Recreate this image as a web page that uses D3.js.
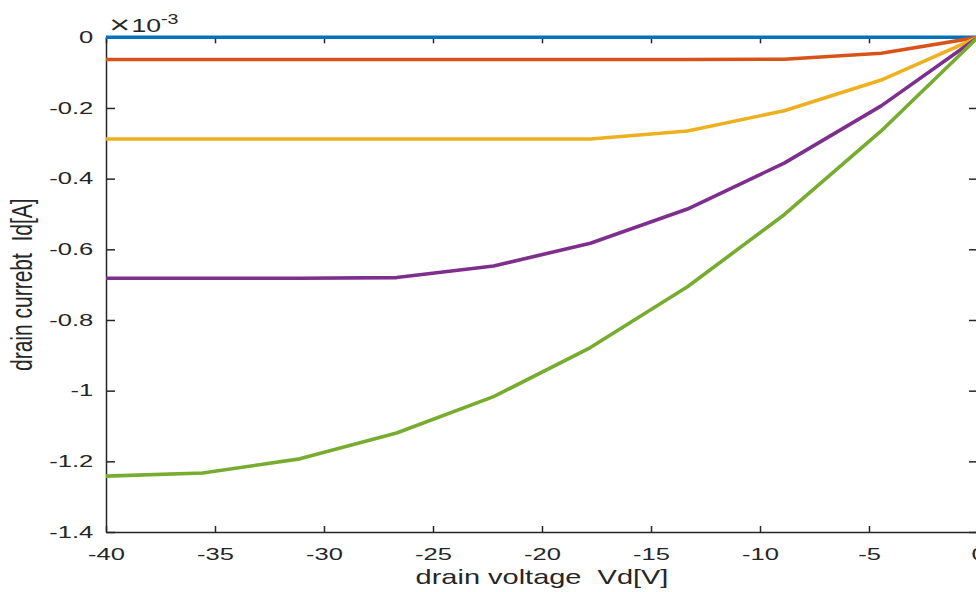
<!DOCTYPE html>
<html>
<head>
<meta charset="utf-8">
<script src="https://cdn.jsdelivr.net/npm/d3@7"></script>
<style>
    body { margin: 0; background: #fff; }
    svg { display: block; }
    text { font-family: "Liberation Sans", Arial, sans-serif; fill: #262626; white-space: pre; }
</style>
</head>
<body>
<svg id="chart"></svg>
<script>
// drain voltage points (V)
const vd = [-40, -35.56, -31.11, -26.67, -22.22, -17.78, -13.33, -8.89, -4.44, 0];

// drain current, units of 1e-3 A, one series per gate voltage
const idBlue   = [0, 0, 0, 0, 0, 0, 0, 0, 0, 0];
const idRed    = [-0.063, -0.063, -0.063, -0.063, -0.063, -0.063, -0.063, -0.062, -0.045, 0];
const idYellow = [-0.288, -0.288, -0.288, -0.288, -0.288, -0.288, -0.265, -0.208, -0.121, 0];
const idPurple = [-0.682, -0.682, -0.682, -0.680, -0.647, -0.583, -0.486, -0.356, -0.194, 0];
const idGreen  = [-1.242, -1.233, -1.193, -1.120, -1.017, -0.878, -0.706, -0.502, -0.265, 0];

const series = [idBlue, idRed, idYellow, idPurple, idGreen];
const colors = ["#0072BD", "#D95319", "#EDB120", "#7E2F8E", "#77AC30"];

const xTicks = [-40, -35, -30, -25, -20, -15, -10, -5, 0];
const yTicks = [0, -0.2, -0.4, -0.6, -0.8, -1, -1.2, -1.4];

const width = 976, height = 592;
const margin = {top: 37.3, right: -2, bottom: 60, left: 106};
const tickStretch = 1.55;   // the picture is stretched sideways
const labelStretch = 1.38;

const svg = d3.select("#chart").attr("width", width).attr("height", height);

const x = d3.scaleLinear().domain([-40, 0]).range([margin.left, width - margin.right]);
const y = d3.scaleLinear().domain([-1.4, 0]).range([height - margin.bottom, margin.top]);

const fmt = d => d === 0 ? "0" : String(d);

// bottom axis
const gx = svg.append("g")
    .attr("transform", `translate(0,${y(-1.4)})`)
    .call(d3.axisBottom(x).tickValues(xTicks).tickFormat(fmt)
        .tickSizeInner(-6).tickSizeOuter(0).tickPadding(16));
gx.selectAll("text")
    .attr("transform", `scale(${tickStretch},1)`)
    .style("font-size", "16.5px");

// left axis
const gy = svg.append("g")
    .attr("transform", `translate(${x(-40)},0)`)
    .call(d3.axisLeft(y).tickValues(yTicks).tickFormat(fmt)
        .tickSizeInner(-9).tickSizeOuter(0).tickPadding(8.2));
gy.selectAll("text")
    .attr("transform", `scale(${tickStretch},1)`)
    .style("font-size", "16.5px");

// top and right box sides, ticks only
svg.append("g")
    .attr("transform", `translate(0,${y(0)})`)
    .call(d3.axisTop(x).tickValues(xTicks).tickFormat("")
        .tickSizeInner(-6).tickSizeOuter(0));
svg.append("g")
    .attr("transform", `translate(${x(0)},0)`)
    .call(d3.axisRight(y).tickValues(yTicks).tickFormat("")
        .tickSizeInner(-9).tickSizeOuter(0));

svg.selectAll(".domain, .tick line")
    .attr("stroke", "#262626")
    .attr("stroke-width", 1.5);
svg.selectAll(".tick text").attr("fill", "#262626");

// curves
const line = d3.line()
    .x((d, i) => x(vd[i]))
    .y(d => y(d));

svg.append("g")
    .selectAll("path")
    .data(series)
    .enter().append("path")
    .attr("fill", "none")
    .attr("stroke", (d, i) => colors[i])
    .attr("stroke-width", 3.6)
    .attr("stroke-linejoin", "round")
    .attr("d", line);

// exponent label
const expo = svg.append("text")
    .attr("transform", `translate(${x(-40) + 2},32) scale(1.4,1)`)
    .style("font-size", "19px");
expo.append("tspan")
    .style("font-family", "'DejaVu Sans', sans-serif")
    .style("font-size", "20px")
    .attr("dy", -1)
    .text("\u00D7");
expo.append("tspan").attr("dy", 1).text("10");
expo.append("tspan").attr("dy", -8).style("font-size", "14px").text("-3");

// axis labels
svg.append("text")
    .attr("transform", `translate(${(x(-40) + x(0)) / 2},584) scale(${labelStretch},1)`)
    .attr("text-anchor", "middle")
    .style("font-size", "21px")
    .text("drain voltage  Vd[V]");

svg.append("text")
    .attr("transform", `translate(32,${(y(0) + y(-1.4)) / 2}) scale(${labelStretch},1) rotate(-90)`)
    .attr("text-anchor", "middle")
    .style("font-size", "21px")
    .text("drain currebt  Id[A]");
</script>
</body>
</html>
